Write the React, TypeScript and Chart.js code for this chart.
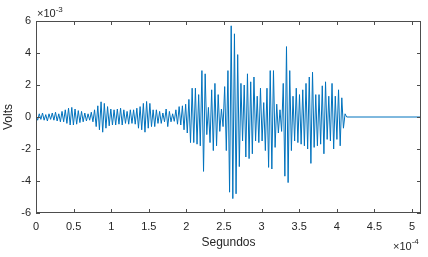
import React, { useEffect, useRef } from 'react';
import { Chart, registerables } from 'chart.js';

Chart.register(...registerables);

// Time axis in units of 1e-4 s, voltage in units of 1e-3 V
const xTickValues = [0, 0.5, 1, 1.5, 2, 2.5, 3, 3.5, 4, 4.5, 5];
const yTickValues = [-6, -4, -2, 0, 2, 4, 6];
const xMax = 5.12;
const sampleStep = 4.11 / 190; // spacing between successive peaks/troughs (x1e-4 s)

// peak / trough values (x1e-3 V), in time order
const quietStart = [0.1, -0.2, 0.2, -0.15, 0.25, -0.2, 0.15, -0.25, 0.2, -0.15, 0.25, -0.2, 0.3, -0.25, 0.2, -0.3];
const firstSwell = [0.35, -0.3, 0.45, -0.4, 0.55, -0.5, 0.6, -0.5, 0.5, -0.45, 0.4, -0.35, 0.35, -0.3];
const firstDip = [0.25, -0.25, 0.2, -0.2, 0.3, -0.3];
const secondSwell = [0.45, -0.6, 0.7, -0.8, 0.95, -0.95, 0.85, -0.7, 0.65, -0.55, 0.5, -0.5];
const middleQuiet = [0.45, -0.5, 0.5, -0.45, 0.55, -0.5, 0.45, -0.4, 0.35, -0.45, 0.45, -0.4, 0.45, -0.45];
const thirdSwell = [0.55, -0.7, 0.65, -0.8, 0.85, -0.95, 0.97, -0.7, 0.85, -0.6, 0.45, -0.6];
const preBurst = [0.45, -0.4, 0.35, -0.4, 0.25, -0.3, 0.5, -0.6, 0.35, -0.3, 0.2, -0.27, 0.45, -0.45, 0.65, -0.5, 0.7, -0.8];
const burstOne = [0.8, -1.0, 1.1, -1.6, 1.8, -1.6, 1.8, -1.7, 1.4, -1.8, 2.9, -3.4, 2.7, -1.1, 0.6, -1.6, 1.7, -2.1, 2.1, -1.8, 1.4, -0.9, 0.5, -0.6];
const burstTwo = [1.9, -2.1, 2.9, -4.7, 5.7, -5.1, 5.2, -4.8, 3.9, -3.1, 2.1, -1.5, 2.0, -2.5, 2.7, -2.6, 2.2, -2.3, 2.5, -1.5, 1.3, -1.6];
const burstThree = [1.8, -1.5, 0.9, -2.1, 1.8, -3.15, 2.9, -3.25, 2.9, -1.9, 0.8, -1.0, 0.45, -0.9, 2.1, -3.7, 4.4, -4.1, 2.9, -2.1];
const burstFour = [1.3, -1.5, 1.8, -1.6, 1.4, -1.7, 1.7, -1.8, 2.1, -2.0, 2.5, -2.9, 2.8, -1.9, 1.4, -1.8, 1.4, -1.7, 1.95, -2.3, 2.2, -1.4, 1.3, -1.5, 2.1, -2.0, 1.3, -1.4, 1.7, -1.8, 1.2, -0.7, 0.2];
const tailValue = 0;

const signal = [
  ...quietStart, ...firstSwell, ...firstDip, ...secondSwell, ...middleQuiet,
  ...thirdSwell, ...preBurst, ...burstOne, ...burstTwo, ...burstThree, ...burstFour,
];

const TEXT = '#262626';
const FONT = 'Liberation Sans, Arial, Helvetica, sans-serif';

const matlabBox = {
  id: 'matlabBox',
  afterDraw(chart: any) {
    const { ctx, chartArea, scales } = chart;
    const { left, right, top, bottom } = chartArea;
    const xs = scales.x;
    const ys = scales.y;
    ctx.save();
    ctx.strokeStyle = '#4d4d4d';
    ctx.lineWidth = 1;
    ctx.strokeRect(Math.round(left) + 0.5, Math.round(top) + 0.5, Math.round(right - left) - 1, Math.round(bottom - top) - 1);
    const tl = 4;
    ctx.beginPath();
    xTickValues.forEach((v) => {
      const p = Math.round(xs.getPixelForValue(v)) + 0.5;
      ctx.moveTo(p, bottom);
      ctx.lineTo(p, bottom - tl);
      ctx.moveTo(p, top);
      ctx.lineTo(p, top + tl);
    });
    yTickValues.forEach((v) => {
      const p = Math.round(ys.getPixelForValue(v)) + 0.5;
      ctx.moveTo(left, p);
      ctx.lineTo(left + tl, p);
      ctx.moveTo(right, p);
      ctx.lineTo(right - tl, p);
    });
    ctx.stroke();

    ctx.fillStyle = TEXT;
    ctx.textBaseline = 'alphabetic';
    ctx.textAlign = 'left';
    ctx.font = `11px ${FONT}`;
    ctx.fillText('\u00d710', left + 1, top - 4);
    const w1 = ctx.measureText('\u00d710').width;
    ctx.font = `8px ${FONT}`;
    ctx.fillText('-3', left + 1 + w1, top - 9);

    ctx.font = `11px ${FONT}`;
    const w2 = ctx.measureText('\u00d710').width;
    const bx = right - 28;
    ctx.fillText('\u00d710', bx, bottom + 37);
    ctx.font = `8px ${FONT}`;
    ctx.fillText('-4', bx + w2, bottom + 31);
    ctx.restore();
  },
};

export default function App() {
  const canvasRef = useRef<HTMLCanvasElement | null>(null);

  useEffect(() => {
    document.body.style.margin = '0';
    const points = signal.map((v, i) => ({ x: i * sampleStep, y: v }));
    points.push({ x: signal.length * sampleStep, y: tailValue });
    points.push({ x: xMax, y: tailValue });

    const chart = new Chart(canvasRef.current as HTMLCanvasElement, {
      type: 'line',
      data: {
        datasets: [
          {
            data: points,
            borderColor: '#0072BD',
            borderWidth: 1,
            pointRadius: 0,
            tension: 0,
            fill: false,
          },
        ],
      },
      options: {
        animation: false,
        responsive: true,
        maintainAspectRatio: false,
        layout: { padding: { top: 21, right: 7, left: 0, bottom: 0 } },
        plugins: { legend: { display: false }, tooltip: { enabled: false } },
        scales: {
          x: {
            type: 'linear',
            min: 0,
            max: xMax,
            grid: { display: false, drawTicks: false },
            border: { display: false },
            afterFit: (s: any) => { s.height = 44; },
            afterBuildTicks: (s: any) => { s.ticks = xTickValues.map((v) => ({ value: v })); },
            ticks: {
              autoSkip: false,
              maxRotation: 0,
              padding: 7,
              color: TEXT,
              font: { family: FONT, size: 11 },
              callback: (v: any) => String(v),
            },
            title: {
              display: true,
              text: 'Segundos',
              color: TEXT,
              font: { family: FONT, size: 12 },
              padding: { top: 0, bottom: 7 },
            },
          },
          y: {
            min: -6,
            max: 6,
            grid: { display: false, drawTicks: false },
            border: { display: false },
            afterFit: (s: any) => { s.width = 36; },
            afterBuildTicks: (s: any) => { s.ticks = yTickValues.map((v) => ({ value: v })); },
            ticks: {
              padding: 5,
              color: TEXT,
              font: { family: FONT, size: 11 },
              callback: (v: any) => String(v),
            },
            title: {
              display: true,
              text: 'Volts',
              color: TEXT,
              font: { family: FONT, size: 12 },
              padding: { top: 1, bottom: 0 },
            },
          },
        },
      },
      plugins: [matlabBox],
    });
    return () => chart.destroy();
  }, []);

  return (
    <div style={{ position: 'absolute', left: 0, top: 0, width: 428, height: 257, background: '#fff' }}>
      <canvas ref={canvasRef} />
    </div>
  );
}
